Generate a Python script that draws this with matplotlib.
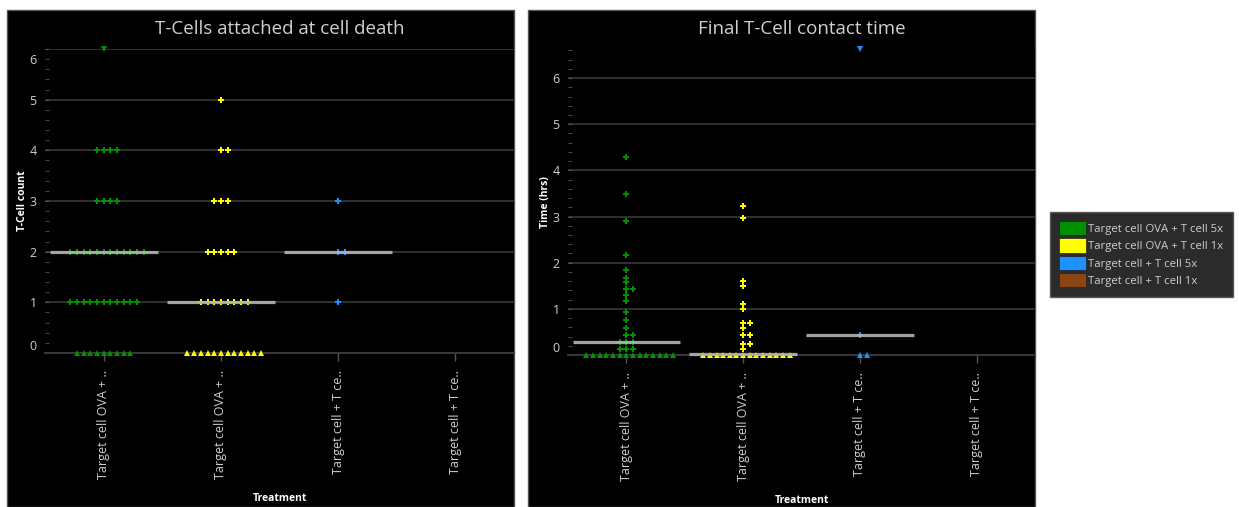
import numpy as np
import matplotlib
matplotlib.use('Agg')
import matplotlib.pyplot as plt
from matplotlib.patches import Rectangle, Patch
from matplotlib.transforms import ScaledTranslation

plt.rcParams['font.family'] = ['Open Sans', 'DejaVu Sans']

# groups and labels
groups = ['Target cell OVA + T cell 5x', 'Target cell OVA + T cell 1x',
          'Target cell + T cell 5x', 'Target cell + T cell 1x']
tick_labels = ['Target cell OVA + ..', 'Target cell OVA + ..',
               'Target cell + T ce..', 'Target cell + T ce..']
colors = ['#009000', '#ffff00', '#1e90ff', '#8b4513']

# T-Cells attached at cell death (counts per target cell)
count_5x_ova = [6] + [4] * 4 + [3] * 4 + [2] * 12 + [1] * 11 + [0] * 9
count_1x_ova = [5] + [4] * 2 + [3] * 3 + [2] * 5 + [1] * 8 + [0] * 12
count_5x = [3, 2, 2, 1]
count_1x = []
count_medians = [2, 1, 2, None]

# Final T-Cell contact time (hrs)
time_5x_ova = [4.29, 3.48, 2.9, 2.17, 1.84, 1.66, 1.59, 1.43, 1.43, 1.29, 1.18,
               0.94, 0.75, 0.58, 0.44, 0.44] + [0.28] * 3 + [0.12] * 3 + [0] * 14
time_1x_ova = [3.22, 2.97, 1.61, 1.5, 1.11, 1.0, 0.7, 0.7, 0.58, 0.43, 0.43,
               0.23, 0.23, 0.12] + [0] * 14
time_5x = [6.63, 0.43, 0, 0]
time_1x = []
time_medians = [0.28, 0.02, 0.43, None]

fg = '#cfcfcf'
W, H = 1239, 507
fig = plt.figure(figsize=(W / 100, H / 100), dpi=100, facecolor='white')

# black panels behind the axes
for x0, x1 in [(7, 514), (528, 1035)]:
    fig.add_artist(Rectangle((x0 / W, 0), (x1 - x0) / W, 1 - 10 / H,
                             transform=fig.transFigure, facecolor='black',
                             edgecolor='#555555', linewidth=1, zorder=-5))


def swarm_offsets(vals, spacing):
    offs = np.zeros(len(vals))
    vals = np.asarray(vals, dtype=float)
    for v in np.unique(vals):
        idx = np.where(vals == v)[0]
        for k, i in enumerate(idx):
            step = (k + 1) // 2
            offs[i] = step if k % 2 == 1 else -step
    return offs * spacing


def draw(ax, data, medians, ymax, major, title, ylabel, shift_top):
    ax.set_facecolor('black')
    for i, vals in enumerate(data):
        if not vals:
            continue
        v = np.asarray(vals, dtype=float)
        x = i + swarm_offsets(v, 0.057)
        mid = (v > 0) & (v < ymax)
        ax.plot(x[mid], v[mid], 'P', ms=4.5, color=colors[i], mew=0, clip_on=False, zorder=3)
        lo = v <= 0
        ax.plot(x[lo], v[lo], '^', ms=4.5, color=colors[i], mew=0, clip_on=False, zorder=3)
        hi = v >= ymax
        ax.plot(x[hi], v[hi], 'v', ms=4.5, color=colors[i], mew=0, clip_on=False, zorder=3)
        if medians[i] is not None:
            ax.plot([i - 0.46, i + 0.46], [medians[i]] * 2, color='#b4b4b4', lw=2.3,
                    alpha=0.9, solid_capstyle='butt', zorder=4, clip_on=False)
    ax.set_xlim(-0.5, 3.5)
    ax.set_ylim(0, ymax)
    ax.set_yticks(major)
    ax.set_yticks(np.arange(0, ymax, 0.2), minor=True)
    ax.grid(axis='y', which='major', color='#333333', lw=1.3)
    ax.set_axisbelow(True)
    for s in ['left', 'right', 'top']:
        ax.spines[s].set_visible(False)
    ax.spines['bottom'].set_color('#3a3a3a')
    ax.spines['bottom'].set_linewidth(1.3)
    ax.tick_params(axis='y', which='both', direction='in', colors='#555555',
                   labelcolor=fg, labelsize=9, length=3, pad=6)
    ax.tick_params(axis='x', colors='#555555', labelcolor=fg, labelsize=9,
                   length=6, width=1, pad=6)
    ax.set_xticks(range(4))
    ax.set_xticklabels(tick_labels, rotation=90, va='top', ha='center')
    ax.set_title(title, color=fg, fontsize=13.5, pad=11)
    ax.set_ylabel(ylabel, color='white', fontsize=7.5, fontweight='bold', labelpad=1)
    ax.set_xlabel('Treatment', color='white', fontsize=7.5, fontweight='bold', labelpad=10)
    labels = ax.get_yticklabels()
    labels[0].set_transform(labels[0].get_transform() +
                            ScaledTranslation(0, 8 / 100, fig.dpi_scale_trans))
    if shift_top:
        labels[-1].set_transform(labels[-1].get_transform() +
                                 ScaledTranslation(0, -10 / 100, fig.dpi_scale_trans))


ax1 = fig.add_axes([45 / W, 1 - 353 / H, (514 - 45) / W, (353 - 49) / H])
draw(ax1, [count_5x_ova, count_1x_ova, count_5x, count_1x], count_medians, 6,
     range(0, 7), 'T-Cells attached at cell death', 'T-Cell count', True)

ax2 = fig.add_axes([568 / W, 1 - 355 / H, (1035 - 568) / W, (355 - 49) / H])
draw(ax2, [time_5x_ova, time_1x_ova, time_5x, time_1x], time_medians, 6.63,
     range(0, 7), 'Final T-Cell contact time', 'Time (hrs)', False)

handles = [Patch(facecolor=c, edgecolor='#222222', lw=0.5) for c in colors]
leg = fig.legend(handles, groups, loc='upper left', bbox_to_anchor=(1050 / W, 1 - 212 / H),
                 frameon=True, facecolor='#2b2b2b', edgecolor='#5a5a5a', fancybox=False,
                 framealpha=1, fontsize=8.2, labelcolor=fg, handlelength=2.4, handleheight=1.55,
                 handletextpad=0.15, labelspacing=0.27, borderpad=0.8, borderaxespad=0)
leg.get_frame().set_linewidth(1)

fig.savefig('out.png', dpi=100, facecolor='white')
